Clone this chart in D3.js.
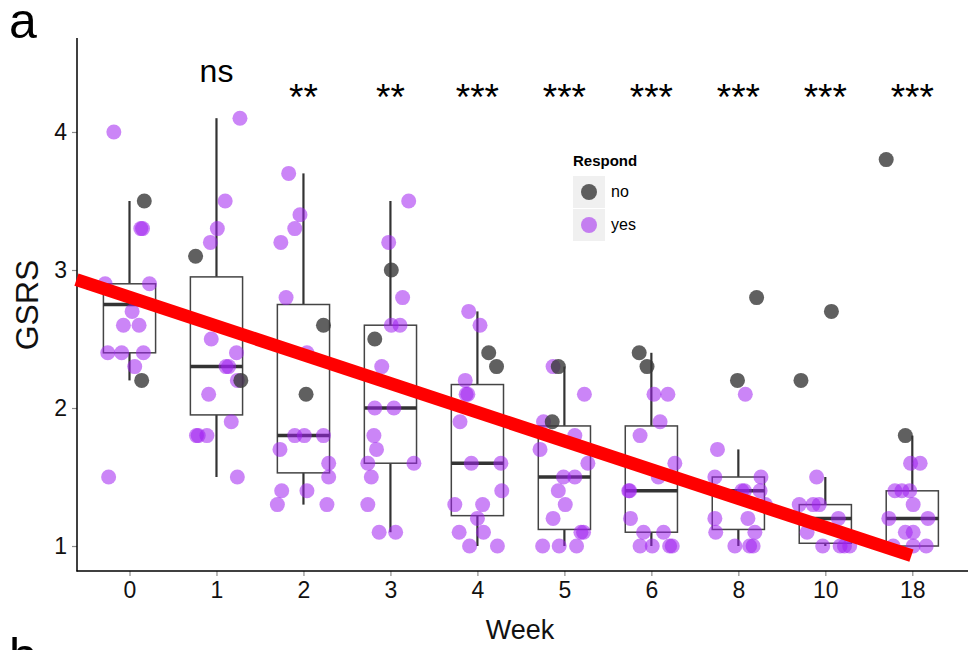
<!DOCTYPE html>
<html>
<head>
<meta charset="utf-8">
<script src="https://cdn.jsdelivr.net/npm/d3@7"></script>
<style>
html, body { margin: 0; padding: 0; background: #fff; }
svg { display: block; font-family: "Liberation Sans", Arial, Helvetica, sans-serif; }
</style>
</head>
<body>
<svg id="chart" width="973" height="650"></svg>
<script>
// ---------------- data ----------------
const weeks = ["0", "1", "2", "3", "4", "5", "6", "8", "10", "18"];
const yTicks = [1, 2, 3, 4];
const sigLabels = ["", "ns", "**", "**", "***", "***", "***", "***", "***", "***"];

// box statistics per week
const boxQ1     = [2.40, 1.95, 1.53, 1.60, 1.22, 1.12, 1.10, 1.12, 1.02, 1.00];
const boxMedian = [2.75, 2.30, 1.80, 2.00, 1.60, 1.50, 1.40, 1.40, 1.20, 1.20];
const boxQ3     = [2.90, 2.95, 2.75, 2.60, 2.17, 1.87, 1.87, 1.50, 1.30, 1.40];
const whiskLow  = [2.20, 1.50, 1.30, 1.10, 1.00, 1.00, 1.00, 1.00, 1.00, 1.00];
const whiskHigh = [3.50, 4.10, 3.70, 3.50, 2.70, 2.30, 2.40, 1.70, 1.50, 1.80];

// Respond = yes (purple) values, per week, with jitter (in category units)
const yesValues = [
  [4.0, 3.3, 3.3, 2.9, 2.9, 2.7, 2.6, 2.6, 2.4, 2.4, 2.4, 2.3, 1.5],
  [4.1, 3.5, 3.3, 3.2, 2.5, 2.4, 2.3, 2.3, 2.2, 2.1, 1.9, 1.8, 1.8, 1.8, 1.5],
  [3.7, 3.4, 3.3, 3.2, 2.8, 2.4, 1.8, 1.8, 1.8, 1.7, 1.6, 1.5, 1.4, 1.4, 1.3, 1.3],
  [3.5, 3.2, 2.8, 2.6, 2.6, 2.3, 2.0, 2.0, 1.8, 1.7, 1.6, 1.6, 1.5, 1.3, 1.1, 1.1],
  [2.7, 2.6, 2.2, 2.1, 2.1, 1.9, 1.6, 1.6, 1.4, 1.3, 1.3, 1.2, 1.1, 1.1, 1.0, 1.0],
  [2.3, 2.1, 1.9, 1.8, 1.7, 1.6, 1.5, 1.5, 1.4, 1.3, 1.2, 1.1, 1.1, 1.0, 1.0, 1.0],
  [2.1, 2.1, 1.9, 1.8, 1.6, 1.5, 1.4, 1.4, 1.2, 1.1, 1.1, 1.0, 1.0, 1.0, 1.0],
  [2.1, 1.7, 1.5, 1.5, 1.4, 1.4, 1.4, 1.3, 1.2, 1.2, 1.1, 1.1, 1.0, 1.0, 1.0],
  [1.5, 1.3, 1.3, 1.3, 1.2, 1.1, 1.0, 1.0, 1.0, 1.0],
  [1.6, 1.6, 1.4, 1.4, 1.4, 1.3, 1.2, 1.2, 1.1, 1.1, 1.0, 1.0, 1.0]
];
const yesJitter = [
  [-0.18, 0.13, 0.15, -0.28, 0.23, 0.03, -0.07, 0.11, -0.25, -0.09, 0.16, 0.06, -0.24],
  [0.27, 0.10, 0.01, -0.07, -0.06, 0.23, 0.11, 0.14, 0.24, -0.09, 0.17, -0.23, -0.21, -0.11, 0.24],
  [-0.17, -0.04, -0.10, -0.26, -0.20, 0.04, -0.10, 0.01, 0.23, -0.27, 0.29, 0.29, -0.25, 0.04, -0.30, 0.27],
  [0.21, -0.02, 0.14, 0.01, 0.11, -0.10, -0.18, 0.04, -0.19, -0.16, -0.26, 0.27, -0.22, -0.26, -0.13, 0.06],
  [-0.10, 0.03, -0.14, -0.13, -0.11, -0.20, -0.07, 0.27, 0.28, -0.26, 0.06, 0.00, -0.21, 0.07, -0.09, 0.23],
  [-0.13, 0.23, -0.24, 0.12, -0.28, 0.27, -0.01, 0.12, -0.07, 0.01, -0.13, 0.19, 0.22, -0.25, -0.06, 0.14],
  [0.03, 0.19, 0.10, -0.13, 0.27, 0.08, -0.26, -0.25, -0.24, -0.09, 0.14, -0.13, 0.01, 0.21, 0.24],
  [0.08, -0.24, -0.27, 0.26, 0.04, 0.07, 0.25, 0.31, -0.27, 0.11, -0.26, 0.19, -0.04, 0.13, 0.17],
  [-0.10, -0.30, -0.14, -0.07, 0.15, -0.21, -0.03, 0.17, 0.22, 0.28],
  [-0.02, 0.09, -0.20, -0.12, -0.03, 0.01, -0.27, 0.18, -0.08, 0.01, -0.22, 0.01, 0.16]
];

// Respond = no (grey) values, per week, with jitter
const noValues = [
  [3.5, 2.2], [3.1, 2.2], [2.6, 2.1], [3.0, 2.5], [2.4, 2.3],
  [2.3, 1.9], [2.4, 2.3], [2.8, 2.2], [2.7, 2.2], [3.8, 1.8]
];
const noJitter = [
  [0.17, 0.14], [-0.24, 0.28], [0.23, 0.03], [0.01, -0.18], [0.13, 0.22],
  [-0.07, -0.14], [-0.14, -0.05], [0.21, -0.01], [0.07, -0.28], [-0.30, -0.08]
];

// red trend line: position in category units from first week, and GSRS value
const trendIndex = [-0.61, 8.99];
const trendValue = [2.93, 0.93];

const legendTitle = "Respond";
const legendLabels = ["no", "yes"];

// ---------------- drawing ----------------
const svg = d3.select("#chart");
const PURPLE = "#a020f0", GREY = "#383838";

const x = d3.scalePoint().domain(weeks).range([129.5, 912.3]);
const step = x.step();
const y = d3.scaleLinear().domain([0.819, 4.681]).range([571, 38]);

const axisLeftX = 77, axisBottomY = 571;

// axes
const gy = svg.append("g").attr("transform", `translate(${axisLeftX},0)`)
  .call(d3.axisLeft(y).tickValues(yTicks).tickSize(5).tickPadding(5).tickFormat(d3.format("d")));
gy.select(".domain").remove();
gy.selectAll(".tick line").attr("stroke", "#8c8c8c").attr("stroke-width", 1.2);
gy.selectAll(".tick text").attr("font-size", 23).attr("fill", "#111")
  .attr("font-family", "Liberation Sans, Arial, sans-serif");

const gx = svg.append("g").attr("transform", `translate(0,${axisBottomY})`)
  .call(d3.axisBottom(x).tickSize(5).tickPadding(6));
gx.select(".domain").remove();
gx.selectAll(".tick line").attr("stroke", "#8c8c8c").attr("stroke-width", 1.2);
gx.selectAll(".tick text").attr("font-size", 23).attr("fill", "#111")
  .attr("font-family", "Liberation Sans, Arial, sans-serif");

svg.append("line").attr("x1", axisLeftX).attr("x2", axisLeftX)
  .attr("y1", 38).attr("y2", axisBottomY + 0.5).attr("stroke", "#000").attr("stroke-width", 1.5);
svg.append("line").attr("x1", axisLeftX - 0.5).attr("x2", 968)
  .attr("y1", axisBottomY).attr("y2", axisBottomY).attr("stroke", "#000").attr("stroke-width", 1.5);

// axis titles
svg.append("text").attr("x", 520).attr("y", 639).attr("text-anchor", "middle")
  .attr("font-size", 27).attr("fill", "#111").text("Week");
svg.append("text").attr("transform", "translate(38,305) rotate(-90)").attr("text-anchor", "middle")
  .attr("font-size", 32).attr("fill", "#111").text("GSRS");

// panel letters
svg.append("text").attr("x", 9).attr("y", 38).attr("font-size", 50).attr("fill", "#000").text("a");
svg.append("text").attr("x", 9).attr("y", 673).attr("font-size", 50).attr("fill", "#000").text("b");

// boxplots
const boxW = step * 0.6;
const boxes = svg.append("g");
weeks.forEach((w, i) => {
  const cx = x(w);
  const g = boxes.append("g");
  g.append("line").attr("x1", cx).attr("x2", cx).attr("y1", y(boxQ3[i])).attr("y2", y(whiskHigh[i]))
    .attr("stroke", "#333").attr("stroke-width", 2.2);
  g.append("line").attr("x1", cx).attr("x2", cx).attr("y1", y(boxQ1[i])).attr("y2", y(whiskLow[i]))
    .attr("stroke", "#333").attr("stroke-width", 2.2);
  g.append("rect").attr("x", cx - boxW / 2).attr("width", boxW)
    .attr("y", y(boxQ3[i])).attr("height", y(boxQ1[i]) - y(boxQ3[i]))
    .attr("fill", "none").attr("stroke", "#444").attr("stroke-width", 1.5);
  g.append("line").attr("x1", cx - boxW / 2).attr("x2", cx + boxW / 2)
    .attr("y1", y(boxMedian[i])).attr("y2", y(boxMedian[i]))
    .attr("stroke", "#333").attr("stroke-width", 3.5);
});

// points
const pts = svg.append("g");
weeks.forEach((w, i) => {
  yesValues[i].forEach((v, j) => {
    pts.append("circle").attr("cx", x(w) + yesJitter[i][j] * step).attr("cy", y(v)).attr("r", 7.5)
      .attr("fill", PURPLE).attr("fill-opacity", 0.55);
  });
});
weeks.forEach((w, i) => {
  noValues[i].forEach((v, j) => {
    pts.append("circle").attr("cx", x(w) + noJitter[i][j] * step).attr("cy", y(v)).attr("r", 7.5)
      .attr("fill", GREY).attr("fill-opacity", 0.8);
  });
});

// red trend line
const x0 = x(weeks[0]);
svg.append("line")
  .attr("x1", x0 + trendIndex[0] * step).attr("y1", y(trendValue[0]))
  .attr("x2", x0 + trendIndex[1] * step).attr("y2", y(trendValue[1]))
  .attr("stroke", "#ff0000").attr("stroke-width", 13).attr("stroke-linecap", "butt");

// significance labels
weeks.forEach((w, i) => {
  if (!sigLabels[i]) return;
  const isNs = sigLabels[i] === "ns";
  svg.append("text").attr("x", x(w)).attr("y", isNs ? 82 : 110)
    .attr("text-anchor", "middle").attr("font-size", isNs ? 32 : 37).attr("fill", "#000")
    .text(sigLabels[i]);
});

// legend
const lg = svg.append("g").attr("transform", "translate(573,0)");
lg.append("text").attr("x", 0).attr("y", 166).attr("font-size", 15).attr("font-weight", "bold")
  .attr("fill", "#000").text(legendTitle);
legendLabels.forEach((lab, k) => {
  const top = 176 + k * 33;
  lg.append("rect").attr("x", 0).attr("y", top).attr("width", 32).attr("height", 32).attr("fill", "#f0f0f0");
  lg.append("circle").attr("cx", 16).attr("cy", top + 16).attr("r", 8)
    .attr("fill", k === 0 ? GREY : PURPLE).attr("fill-opacity", k === 0 ? 0.8 : 0.55);
  lg.append("text").attr("x", 38).attr("y", top + 21).attr("font-size", 16).attr("fill", "#000").text(lab);
});
</script>
</body>
</html>
